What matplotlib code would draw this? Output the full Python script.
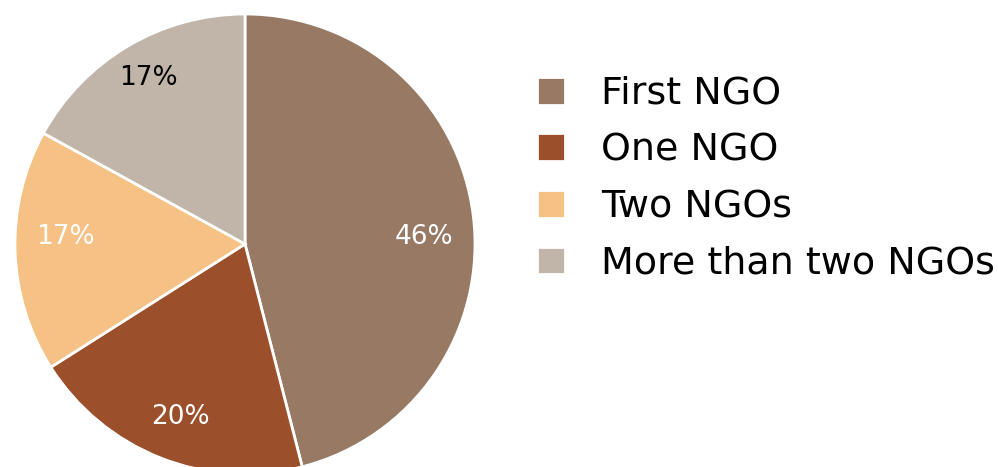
import matplotlib.pyplot as plt

# share of respondents by number of NGOs
labels = ['First NGO', 'One NGO', 'Two NGOs', 'More than two NGOs']
shares = [46, 20, 17, 17]
colors = ['#977964', '#9b4f2a', '#f5c185', '#c1b5a9']
pct_colors = ['white', 'white', 'white', 'black']
# where the percentage labels sit, in units of the pie radius
pct_pos = [(0.78, 0.03), (-0.28, -0.75), (-0.78, 0.03), (-0.42, 0.72)]

plt.rcParams['font.family'] = 'DejaVu Sans'

fig = plt.figure(figsize=(9.98, 4.67), dpi=100)
ax = fig.add_axes([15 / 998, -8 / 467, 460 / 998, 462 / 467])

wedges, texts, autotexts = ax.pie(
    shares, colors=colors, startangle=90, counterclock=False,
    autopct='%d%%', pctdistance=0.79, radius=1,
    wedgeprops=dict(edgecolor='white', linewidth=2),
    textprops=dict(fontsize=19),
)
for t, c, p in zip(autotexts, pct_colors, pct_pos):
    t.set_color(c)
    t.set_position(p)

ax.set_xlim(-1, 1)
ax.set_ylim(-1, 1)
ax.set_aspect('equal')
ax.axis('off')

fig.legend(wedges, labels, loc='upper left', bbox_to_anchor=(537 / 998, 1 - 76 / 467),
           frameon=False, fontsize=27.4, handlelength=0.74, handleheight=0.74,
           handletextpad=0.95, labelspacing=0.54, borderpad=0, borderaxespad=0)

fig.savefig('out.png', dpi=100)
